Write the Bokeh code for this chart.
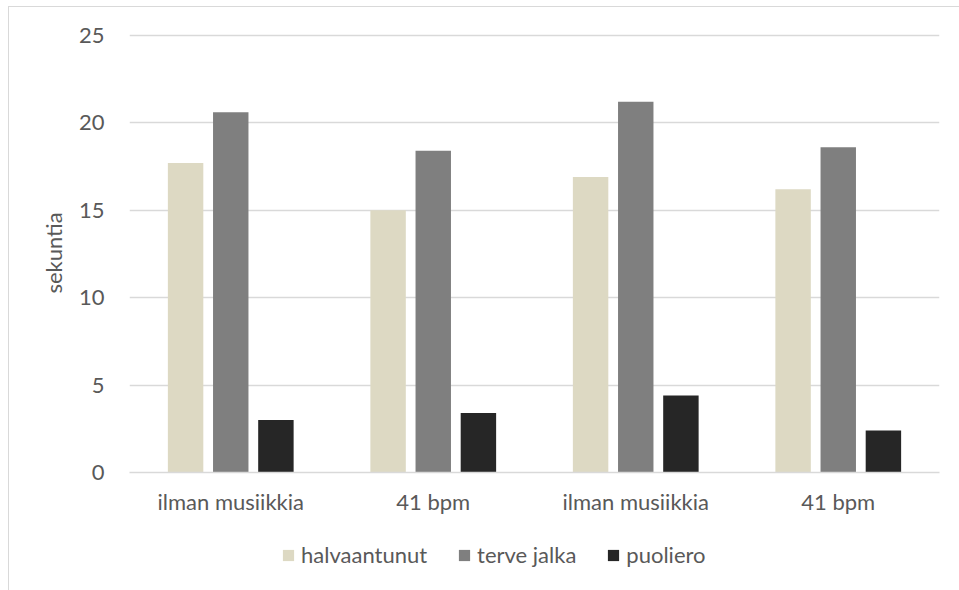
from bokeh.plotting import figure
from bokeh.layouts import column
from bokeh.models import ColumnDataSource, FixedTicker, Legend, LegendItem
from bokeh.transform import dodge
from bokeh.embed import file_html
from bokeh.resources import INLINE

# Data
categories = ["ilman musiikkia", "41 bpm", "ilman musiikkia", "41 bpm"]
halvaantunut = [17.7, 15.0, 16.9, 16.2]
terve_jalka = [20.6, 18.4, 21.2, 18.6]
puoliero = [3.0, 3.4, 4.4, 2.4]
series_names = ["halvaantunut", "terve jalka", "puoliero"]
series_colors = ["#ddd9c3", "#7f7f7f", "#262626"]
y_ticks = [0, 5, 10, 15, 20, 25]

FONT = "Lato"
FONT_SIZE = "22px"
TEXT_COLOR = "#595959"
GRID_COLOR = "#d9d9d9"

positions = list(range(len(categories)))
source = ColumnDataSource(dict(
    pos=positions,
    halvaantunut=halvaantunut,
    terve_jalka=terve_jalka,
    puoliero=puoliero,
))

# Main bar chart
p = figure(
    frame_width=810, frame_height=439,
    x_range=(-0.5, len(categories) - 0.5), y_range=(0, 25.1),
    output_backend="svg", toolbar_location=None,
    min_border_left=120, min_border_right=20,
    min_border_top=26, min_border_bottom=40,
)
p.outline_line_color = None
p.background_fill_color = "white"
p.border_fill_color = "white"

bar_w = 0.175
offsets = [-0.223, 0.0, 0.223]
fields = ["halvaantunut", "terve_jalka", "puoliero"]
for field, off, color in zip(fields, offsets, series_colors):
    p.vbar(x=dodge("pos", off), top=field, bottom=0, width=bar_w,
           source=source, fill_color=color, line_color=None)

p.xaxis.ticker = FixedTicker(ticks=positions)
p.xaxis.major_label_overrides = {i: c for i, c in enumerate(categories)}
p.xaxis.axis_line_color = GRID_COLOR
p.xaxis.axis_line_width = 1.5
p.xaxis.major_tick_line_color = None
p.xaxis.minor_tick_line_color = None
p.xaxis.major_label_standoff = 9
p.xaxis.major_label_text_font = FONT
p.xaxis.major_label_text_font_size = FONT_SIZE
p.xaxis.major_label_text_color = TEXT_COLOR

p.yaxis.ticker = FixedTicker(ticks=y_ticks)
p.yaxis.axis_line_color = None
p.yaxis.major_tick_line_color = None
p.yaxis.minor_tick_line_color = None
p.yaxis.major_label_standoff = 19
p.yaxis.major_label_text_font = FONT
p.yaxis.major_label_text_font_size = FONT_SIZE
p.yaxis.major_label_text_color = TEXT_COLOR
p.yaxis.axis_label = "sekuntia"
p.yaxis.axis_label_standoff = 9
p.yaxis.axis_label_text_font = FONT
p.yaxis.axis_label_text_font_size = FONT_SIZE
p.yaxis.axis_label_text_font_style = "normal"
p.yaxis.axis_label_text_color = TEXT_COLOR

p.xgrid.grid_line_color = None
p.ygrid.grid_line_color = GRID_COLOR
p.ygrid.grid_line_width = 1.5

# Legend strip underneath the chart (its frame lines up with the chart frame)
leg_h = 80
lp = figure(
    width=950, height=leg_h, x_range=(0, 950), y_range=(0, leg_h),
    output_backend="svg", toolbar_location=None,
    min_border_left=0, min_border_right=0, min_border_top=0, min_border_bottom=0,
)
lp.axis.visible = False
lp.grid.visible = False
lp.outline_line_color = None
lp.border_fill_color = "white"

# zero-height swatch renderers, kept off-screen, used only for the legend keys
swatch_src = ColumnDataSource(dict(x=[-1000], top=[0]))
swatches = []
for color in series_colors:
    swatches.append(lp.vbar(x="x", top="top", bottom=0, width=1, source=swatch_src,
                            fill_color=color, line_color=None))

legend = Legend(
    items=[LegendItem(label=n, renderers=[r]) for n, r in zip(series_names, swatches)],
    orientation="horizontal", location=(152, 29),
    label_text_font=FONT, label_text_font_size=FONT_SIZE, label_text_color=TEXT_COLOR,
    glyph_width=14, glyph_height=14, label_standoff=6, spacing=30,
    border_line_color=None, background_fill_alpha=0, padding=0, margin=0,
)
lp.add_layout(legend, "center")

layout = column(p, lp, spacing=0)
layout.styles = {
    "margin-left": "8px", "margin-top": "6px",
    "border-left": f"1px solid {GRID_COLOR}",
    "border-top": f"1px solid {GRID_COLOR}",
}

open("out.html", "w").write(file_html(layout, INLINE))
